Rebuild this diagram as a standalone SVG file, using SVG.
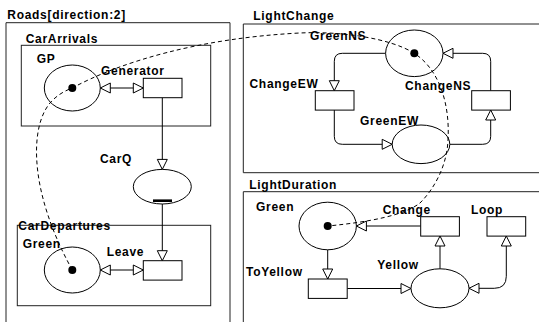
<svg xmlns="http://www.w3.org/2000/svg" width="539" height="322" viewBox="0 0 539 322">
<style>
text{font-family:"Liberation Sans",Arial,sans-serif;font-size:12px;font-weight:bold;letter-spacing:0.7px;fill:#000}
.box{fill:none;stroke:#222;stroke-width:1}
.pl{fill:#fff;stroke:#000;stroke-width:1}
.tr{fill:#fff;stroke:#000;stroke-width:1}
.tok{fill:#000}
.c{fill:none;stroke:#000;stroke-width:1}
.dash{fill:none;stroke:#000;stroke-width:1;stroke-dasharray:4,3}
</style>
<defs>
<marker id="ah" viewBox="0 0 10 10" refX="10" refY="5" markerWidth="10" markerHeight="10" markerUnits="userSpaceOnUse" orient="auto-start-reverse" overflow="visible">
<path d="M0,0 L10,5 L0,10 Z" fill="#fff" stroke="#000" stroke-width="1"/>
</marker>
</defs>
<g id="Roads">
<path class="box" d="M6,330 L6,22.7 L230,22.7 L230,330"/>
<text x="7.3" y="18.5">Roads[direction:2]</text>
</g>
<g id="CarArrivals">
<rect class="box" x="21.3" y="45.3" width="189.4" height="80.7"/>
<text x="25.7" y="43">CarArrivals</text>
</g>
<g id="CarDepartures">
<rect class="box" x="17.3" y="225.3" width="193.4" height="80.4"/>
<text x="18.3" y="229.5">CarDepartures</text>
</g>
<g id="LightChange">
<path class="box" d="M545,172.7 L243.3,172.7 L243.3,24 L545,24"/>
<text x="253.3" y="19.5">LightChange</text>
</g>
<g id="LightDuration">
<path class="box" d="M243.3,330 L243.3,191.7 L545,191.7"/>
<text x="249.3" y="189">LightDuration</text>
</g>
<g id="connectors">
<path class="c" d="M100.3,88 L143.3,88" marker-start="url(#ah)" marker-end="url(#ah)"/>
<path class="c" d="M162.3,97.7 L162.3,169.4" marker-end="url(#ah)"/>
<path class="c" d="M162.3,204 L162.3,260.7" marker-end="url(#ah)"/>
<path class="c" d="M100.3,270 L143.3,270" marker-start="url(#ah)" marker-end="url(#ah)"/>
<path class="c" d="M385.6,53.3 L342.3,53.3 Q334.3,53.3 334.3,61.3 L334.3,90.7" marker-end="url(#ah)"/>
<path class="c" d="M334.3,110 L334.3,136.3 Q334.3,144.3 342.3,144.3 L392.2,144.3" marker-end="url(#ah)"/>
<path class="c" d="M449.8,144.3 L482.7,144.3 Q490.7,144.3 490.7,136.3 L490.7,110" marker-end="url(#ah)"/>
<path class="c" d="M490.7,90.7 L490.7,61.3 Q490.7,53.3 482.7,53.3 L443,53.3" marker-end="url(#ah)"/>
<path class="c" d="M420.7,226 L356.4,226" marker-end="url(#ah)"/>
<path class="c" d="M327.7,249.8 L327.7,279" marker-end="url(#ah)"/>
<path class="c" d="M347.3,288.5 L411,288.5" marker-end="url(#ah)"/>
<path class="c" d="M440,268.8 L440,236" marker-end="url(#ah)"/>
<path class="c" d="M506.3,236 L506.3,276.3 Q506.3,288.3 494.3,288.3 L469,288.3" marker-start="url(#ah)" marker-end="url(#ah)"/>
</g>
<g id="GP">
<ellipse class="pl" cx="72.3" cy="88" rx="28" ry="23"/>
<circle class="tok" cx="72.3" cy="88" r="4"/>
<text x="36.7" y="63">GP</text>
</g>
<g id="Generator">
<rect class="tr" x="143.3" y="78.3" width="38.7" height="19.4"/>
<text x="101" y="74.5">Generator</text>
</g>
<g id="CarQ">
<ellipse class="pl" cx="162.3" cy="186.7" rx="29" ry="17.3"/>
<rect x="153" y="199.4" width="19" height="2.6" fill="#000"/>
<text x="100" y="163">CarQ</text>
</g>
<g id="GreenCD">
<ellipse class="pl" cx="72.3" cy="270" rx="28" ry="23"/>
<circle class="tok" cx="72.3" cy="270" r="4"/>
<text x="22.7" y="247.6">Green</text>
</g>
<g id="Leave">
<rect class="tr" x="143.3" y="260.7" width="38.7" height="19.4"/>
<text x="106.7" y="256">Leave</text>
</g>
<g id="GreenNS">
<ellipse class="pl" cx="414.3" cy="53.3" rx="28.7" ry="23.3"/>
<circle class="tok" cx="414.3" cy="53.3" r="4"/>
</g>
<g id="ChangeEW">
<rect class="tr" x="315.3" y="90.7" width="38.7" height="19.4"/>
<text x="249.5" y="87.5">ChangeEW</text>
</g>
<g id="ChangeNS">
<rect class="tr" x="471.7" y="90.7" width="38.7" height="19.4"/>
<text x="405" y="89.5">ChangeNS</text>
</g>
<g id="GreenEW">
<ellipse class="pl" cx="421" cy="144.3" rx="28.8" ry="19.3"/>
<text x="360" y="125">GreenEW</text>
</g>
<g id="GreenLD">
<ellipse class="pl" cx="327.7" cy="226" rx="28.7" ry="23.8"/>
<circle class="tok" cx="327.7" cy="226" r="4"/>
<text x="256" y="211">Green</text>
</g>
<g id="Change">
<rect class="tr" x="420.7" y="216.7" width="38.7" height="19.4"/>
</g>
<g id="Loop">
<rect class="tr" x="487" y="216.7" width="38.7" height="19.4"/>
<text x="471" y="213.5">Loop</text>
</g>
<g id="ToYellow">
<rect class="tr" x="308.3" y="279" width="38.9" height="19.4"/>
<text x="246" y="276">ToYellow</text>
</g>
<g id="Yellow">
<ellipse class="pl" cx="440" cy="288.3" rx="29" ry="19.5"/>
<text x="377.3" y="268.5">Yellow</text>
</g>
<g id="fusion">
<path class="dash" d="M72.3,270 C60,248 45,215 39,180 C34,150 36,120 50,103 C56,96 64,91 72.3,88 C120,62 200,38 300,33 C340,31 390,38 414.3,53.3 C440,70 450,105 448,140 C447,165 435,188 420,203 C405,215 370,222 327.7,226"/>
</g>
<text x="310" y="39.5">GreenNS</text>
<text x="382.7" y="213.5">Change</text>
</svg>
